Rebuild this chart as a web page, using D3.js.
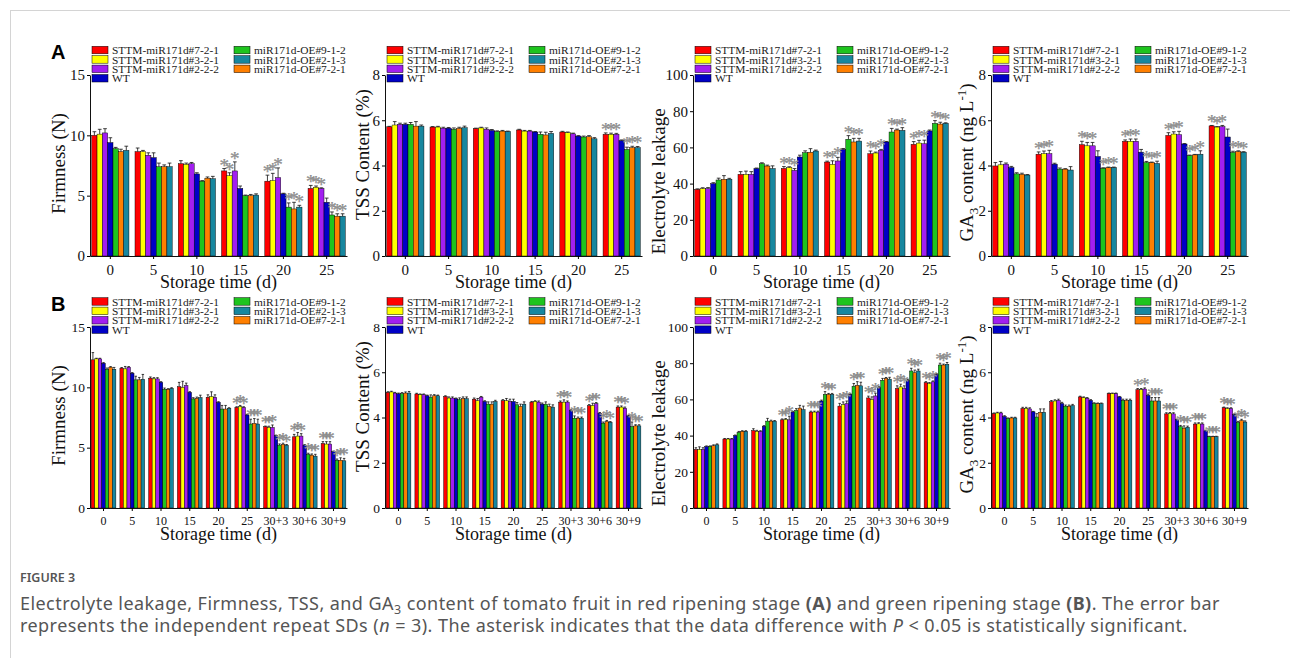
<!DOCTYPE html>
<html>
<head>
<meta charset="utf-8">
<script src="https://cdn.jsdelivr.net/npm/d3@7"></script>
<style>
  body { margin: 0; background: #fff; }
</style>
</head>
<body>
<div id="chartContainer"></div>
<script>

// series, in the order the bars are drawn inside each group
const seriesNames = ["STTM-miR171d#7-2-1", "STTM-miR171d#3-2-1", "STTM-miR171d#2-2-2", "WT",
    "miR171d-OE#9-1-2", "miR171d-OE#7-2-1", "miR171d-OE#2-1-3"];
const seriesColors = ["#ff0000", "#ffff00", "#a21ff0", "#0000c6", "#1ec41e", "#ff7f00", "#17879f"];
// legend: left column 4 entries, right column 3 entries
const legendLeft = [0, 1, 2, 3];
const legendRight = [4, 6, 5];

const daysA = ["0", "5", "10", "15", "20", "25"];
const daysB = ["0", "5", "10", "15", "20", "25", "30+3", "30+6", "30+9"];

const firmTicks = [0, 5, 10, 15];
const tssTicks = [0, 2, 4, 6, 8];
const elTicks = [0, 20, 40, 60, 80, 100];
const gaTicks = [0, 2, 4, 6, 8];

// ---- A: red ripening stage ----
const firmA = [
    [10.0, 10.1, 10.2, 9.4, 8.9, 8.65, 8.75],
    [8.65, 8.65, 8.35, 8.15, 7.4, 7.4, 7.4],
    [7.65, 7.6, 7.65, 6.8, 6.2, 6.45, 6.4],
    [7.05, 6.65, 7.05, 5.6, 5.0, 5.0, 5.05],
    [6.2, 6.25, 6.5, 5.15, 4.05, 3.9, 4.05],
    [5.6, 5.7, 5.6, 4.45, 3.4, 3.3, 3.3]
];
const firmAErr = [
    [0.3, 0.4, 0.35, 0.4, 0.1, 0.2, 0.35],
    [0.3, 0.1, 0.2, 0.4, 0.3, 0.15, 0.3],
    [0.25, 0.1, 0.1, 0.1, 0.05, 0.1, 0.2],
    [0.2, 0.25, 0.75, 0.2, 0.05, 0.1, 0.1],
    [0.5, 0.6, 0.8, 0.05, 0.35, 0.55, 0.15],
    [0.25, 0.1, 0.05, 0.35, 0.25, 0.2, 0.2]
];
const firmASig = ["0000000", "0000000", "0000000", "1110000", "1110111", "1110111"];

const tssA = [
    [5.71, 5.79, 5.82, 5.82, 5.82, 5.74, 5.74],
    [5.70, 5.70, 5.65, 5.65, 5.60, 5.64, 5.67],
    [5.63, 5.66, 5.60, 5.55, 5.50, 5.52, 5.50],
    [5.57, 5.52, 5.52, 5.48, 5.38, 5.35, 5.42],
    [5.48, 5.45, 5.40, 5.30, 5.26, 5.27, 5.18],
    [5.38, 5.38, 5.38, 5.10, 4.71, 4.79, 4.79]
];
const tssAErr = [
    [0.02, 0.15, 0.05, 0.05, 0.08, 0.2, 0.05],
    [0.02, 0.03, 0.04, 0.03, 0.06, 0.05, 0.07],
    [0.02, 0.03, 0.06, 0.04, 0.03, 0.03, 0.02],
    [0.03, 0.03, 0.03, 0.02, 0.1, 0.12, 0.08],
    [0.03, 0.03, 0.03, 0.02, 0.04, 0.05, 0.05],
    [0.06, 0.05, 0.04, 0.03, 0.1, 0.06, 0.05]
];
const tssASig = ["0000000", "0000000", "0000000", "0000000", "0000000", "1110111"];

const elA = [
    [36.8, 37.2, 37.2, 40.0, 42.0, 42.4, 42.4],
    [45.1, 45.1, 45.1, 48.3, 51.0, 49.7, 48.3],
    [48.4, 48.8, 47.3, 54.7, 57.1, 57.3, 58.0],
    [51.9, 50.6, 52.5, 58.9, 64.5, 63.0, 63.5],
    [56.5, 56.9, 58.4, 63.0, 68.5, 69.6, 69.4],
    [61.7, 62.4, 62.0, 69.1, 73.3, 72.9, 73.3]
];
const elAErr = [
    [0.3, 0.5, 0.6, 0.5, 1.0, 2.0, 0.5],
    [1.5, 1.8, 1.5, 0.3, 0.5, 0.5, 1.5],
    [1.0, 0.5, 1.0, 1.0, 1.0, 2.0, 0.5],
    [0.5, 2.0, 2.0, 0.5, 2.0, 2.0, 1.5],
    [1.5, 0.5, 0.5, 0.3, 2.0, 0.5, 1.5],
    [1.5, 1.5, 2.0, 0.5, 1.5, 1.0, 0.3]
];
const elASig = ["0000000", "0000000", "1110000", "1110111", "1110111", "1110111"];

const gaA = [
    [3.98, 4.03, 4.06, 3.91, 3.63, 3.61, 3.58],
    [4.50, 4.52, 4.52, 4.06, 3.84, 3.84, 3.80],
    [4.92, 4.87, 4.87, 4.40, 3.88, 3.91, 3.91],
    [5.07, 5.07, 5.07, 4.59, 4.13, 4.13, 4.09],
    [5.33, 5.39, 5.36, 4.95, 4.44, 4.47, 4.50],
    [5.75, 5.70, 5.72, 5.26, 4.58, 4.62, 4.59]
];
const gaAErr = [
    [0.15, 0.15, 0.05, 0.05, 0.05, 0.05, 0.02],
    [0.1, 0.12, 0.15, 0.04, 0.05, 0.02, 0.15],
    [0.15, 0.15, 0.15, 0.25, 0.02, 0.02, 0.02],
    [0.06, 0.1, 0.1, 0.12, 0.05, 0.02, 0.1],
    [0.12, 0.1, 0.15, 0.02, 0.02, 0.02, 0.15],
    [0.02, 0.02, 0.05, 0.35, 0.05, 0.03, 0.02]
];
const gaASig = ["0000000", "1110000", "1110111", "1110111", "1110111", "1110111"];

// ---- B: green ripening stage ----
const firmB = [
    [12.28, 12.36, 12.36, 12.0, 11.5, 11.67, 11.5],
    [11.59, 11.53, 11.67, 11.17, 10.62, 10.62, 10.67],
    [10.76, 10.7, 10.7, 10.42, 9.84, 9.84, 9.92],
    [10.06, 10.0, 10.15, 9.59, 9.04, 9.09, 9.15],
    [9.18, 9.23, 9.18, 8.76, 8.2, 8.2, 8.26],
    [8.34, 8.4, 8.34, 7.71, 6.96, 7.01, 6.96],
    [6.74, 6.68, 6.68, 5.99, 5.21, 5.27, 5.21],
    [5.9, 5.96, 5.96, 5.21, 4.44, 4.38, 4.3],
    [5.35, 5.3, 5.3, 4.66, 3.96, 3.96, 3.91]
];
const firmBErr = [
    [0.6, 0.05, 0.05, 0.05, 0.1, 0.05, 0.15],
    [0.05, 0.2, 0.05, 0.05, 0.3, 0.2, 0.4],
    [0.1, 0.1, 0.1, 0.05, 0.1, 0.05, 0.05],
    [0.35, 0.5, 0.2, 0.05, 0.1, 0.1, 0.2],
    [0.2, 0.4, 0.2, 0.05, 0.3, 0.3, 0.05],
    [0.05, 0.1, 0.05, 0.05, 0.4, 0.4, 0.4],
    [0.05, 0.1, 0.2, 0.05, 0.1, 0.1, 0.05],
    [0.2, 0.3, 0.2, 0.05, 0.1, 0.1, 0.15],
    [0.15, 0.2, 0.2, 0.05, 0.1, 0.2, 0.2]
];
const firmBSig = ["0000000", "0000000", "0000000", "0000000", "0000000", "1110111", "1110111", "1110111", "1110111"];

const tssB = [
    [5.11, 5.13, 5.08, 5.05, 5.05, 5.08, 5.08],
    [5.04, 5.01, 5.01, 4.96, 4.90, 4.96, 4.96],
    [4.93, 4.86, 4.86, 4.83, 4.79, 4.83, 4.83],
    [4.81, 4.74, 4.90, 4.71, 4.59, 4.59, 4.71],
    [4.74, 4.74, 4.71, 4.71, 4.56, 4.49, 4.59],
    [4.68, 4.71, 4.68, 4.59, 4.59, 4.49, 4.46],
    [4.68, 4.68, 4.68, 4.31, 3.97, 3.97, 3.97],
    [4.52, 4.53, 4.61, 4.19, 3.75, 3.82, 3.79],
    [4.46, 4.46, 4.41, 4.07, 3.60, 3.63, 3.63]
];
const tssBErr = [
    [0.03, 0.03, 0.03, 0.03, 0.05, 0.05, 0.07],
    [0.03, 0.03, 0.03, 0.03, 0.1, 0.05, 0.03],
    [0.03, 0.05, 0.05, 0.03, 0.08, 0.08, 0.08],
    [0.05, 0.1, 0.03, 0.03, 0.1, 0.1, 0.05],
    [0.05, 0.1, 0.1, 0.1, 0.1, 0.1, 0.1],
    [0.03, 0.03, 0.05, 0.05, 0.1, 0.1, 0.1],
    [0.05, 0.1, 0.05, 0.03, 0.1, 0.05, 0.05],
    [0.05, 0.1, 0.05, 0.03, 0.05, 0.05, 0.03],
    [0.05, 0.05, 0.05, 0.03, 0.2, 0.05, 0.05]
];
const tssBSig = ["0000000", "0000000", "0000000", "0000000", "0000000", "0000000", "1110111", "1110111", "1110111"];

const elB = [
    [32.3, 32.3, 32.3, 34.0, 34.0, 34.4, 34.9],
    [38.1, 38.1, 38.1, 40.0, 41.8, 42.4, 42.4],
    [42.8, 42.4, 42.4, 45.2, 48.0, 48.0, 48.0],
    [48.7, 48.9, 48.7, 53.0, 53.9, 55.2, 54.3],
    [53.0, 53.0, 53.0, 59.1, 62.8, 62.8, 62.8],
    [56.3, 57.1, 57.6, 62.8, 67.3, 67.8, 67.5],
    [60.8, 59.9, 61.9, 66.5, 70.6, 71.6, 71.2],
    [66.0, 66.9, 66.0, 70.6, 75.7, 74.7, 75.7],
    [69.3, 68.8, 69.7, 73.8, 79.0, 79.0, 79.4]
];
const elBErr = [
    [1.0, 1.5, 1.0, 0.3, 0.3, 0.5, 0.5],
    [0.3, 0.3, 0.3, 0.3, 0.5, 0.3, 0.3],
    [1.0, 0.5, 0.3, 0.3, 1.5, 0.5, 0.3],
    [0.5, 0.5, 2.0, 0.3, 1.0, 1.5, 2.0],
    [0.5, 0.5, 0.5, 0.5, 1.5, 0.5, 0.5],
    [1.5, 1.5, 1.5, 0.3, 1.5, 2.0, 2.0],
    [1.0, 1.5, 1.5, 0.5, 1.0, 0.5, 1.0],
    [1.5, 1.5, 1.5, 0.5, 1.5, 1.5, 1.0],
    [0.5, 0.5, 0.5, 0.5, 1.0, 0.5, 1.0]
];
const elBSig = ["0000000", "0000000", "0000000", "1110000", "1110111", "1110111", "1110111", "1110111", "1110111"];

const gaB = [
    [4.17, 4.20, 4.20, 4.05, 3.95, 3.98, 3.98],
    [4.40, 4.40, 4.38, 4.25, 4.02, 4.23, 4.23],
    [4.70, 4.73, 4.76, 4.62, 4.50, 4.50, 4.53],
    [4.91, 4.88, 4.85, 4.76, 4.62, 4.61, 4.61],
    [5.06, 5.06, 5.06, 4.91, 4.76, 4.76, 4.76],
    [5.23, 5.23, 5.26, 4.98, 4.73, 4.73, 4.73],
    [4.16, 4.17, 4.16, 3.90, 3.60, 3.53, 3.57],
    [3.71, 3.72, 3.71, 3.41, 3.15, 3.15, 3.15],
    [4.43, 4.40, 4.40, 4.13, 3.78, 3.87, 3.80]
];
const gaBErr = [
    [0.03, 0.03, 0.03, 0.03, 0.03, 0.03, 0.03],
    [0.05, 0.05, 0.05, 0.02, 0.15, 0.15, 0.15],
    [0.05, 0.05, 0.05, 0.05, 0.05, 0.05, 0.05],
    [0.03, 0.03, 0.03, 0.03, 0.03, 0.03, 0.03],
    [0.02, 0.02, 0.02, 0.02, 0.05, 0.05, 0.05],
    [0.05, 0.05, 0.05, 0.05, 0.15, 0.15, 0.15],
    [0.05, 0.05, 0.05, 0.03, 0.05, 0.1, 0.05],
    [0.05, 0.05, 0.05, 0.03, 0.02, 0.02, 0.02],
    [0.03, 0.03, 0.03, 0.03, 0.05, 0.05, 0.05]
];
const gaBSig = ["0000000", "0000000", "0000000", "0000000", "0000000", "1010111", "1110111", "1110111", "1110111"];

// ---- layout ----
const width = 1290;
const height = 658;
const serif = "'Liberation Serif', 'Times New Roman', serif";
const plotW = 257;
const colX = [90, 385, 693, 991];
const rows = [
    { top: 75, bottom: 256, legendTop: 46.3, letter: "A", xTickFont: 15, yTickFont: 15 },
    { top: 327, bottom: 508, legendTop: 297.7, letter: "B", xTickFont: 12, yTickFont: 13.5 }
];

const metrics = [
    { title: "Firmness (N)", ticks: firmTicks, titleDx: -32, titleDy: -2 },
    { title: "TSS Content (%)", ticks: tssTicks, titleDx: -23, titleDy: -11 },
    { title: "Electrolyte leakage", ticks: elTicks, titleDx: -35, titleDy: 16 },
    { title: "GA3", ticks: gaTicks, titleDx: -25, titleDy: -3 }
];

const panels = [
    { row: 0, col: 0, cats: daysA, vals: firmA, errs: firmAErr, sig: firmASig },
    { row: 0, col: 1, cats: daysA, vals: tssA, errs: tssAErr, sig: tssASig },
    { row: 0, col: 2, cats: daysA, vals: elA, errs: elAErr, sig: elASig },
    { row: 0, col: 3, cats: daysA, vals: gaA, errs: gaAErr, sig: gaASig },
    { row: 1, col: 0, cats: daysB, vals: firmB, errs: firmBErr, sig: firmBSig },
    { row: 1, col: 1, cats: daysB, vals: tssB, errs: tssBErr, sig: tssBSig },
    { row: 1, col: 2, cats: daysB, vals: elB, errs: elBErr, sig: elBSig },
    { row: 1, col: 3, cats: daysB, vals: gaB, errs: gaBErr, sig: gaBSig }
];

const svg = d3.select('#chartContainer')
    .append('svg')
    .attr('width', width)
    .attr('height', height)
    .style('display', 'block')
    .style('background', '#fff');

// page frame lines
svg.append('line').attr('x1', 10).attr('x2', width).attr('y1', 10.5).attr('y2', 10.5)
    .attr('stroke', '#d4d4d4');
svg.append('line').attr('x1', 10.5).attr('x2', 10.5).attr('y1', 10).attr('y2', height)
    .attr('stroke', '#d4d4d4');

function drawPanel(p) {
    const row = rows[p.row];
    const m = metrics[p.col];
    const x0 = colX[p.col];
    const g = svg.append('g').attr('class', 'panel');

    const scaleX = d3.scaleBand()
        .domain(p.cats)
        .range([x0, x0 + plotW])
        .paddingInner(0.14)
        .paddingOuter(0.04);

    const scaleS = d3.scaleBand()
        .domain(d3.range(seriesNames.length))
        .range([0, scaleX.bandwidth()]);

    const yMax = m.ticks[m.ticks.length - 1];
    const scaleY = d3.scaleLinear()
        .domain([0, yMax])
        .range([row.bottom, row.top]);

    // flatten groups
    const cells = [];
    p.cats.forEach((c, gi) => {
        p.vals[gi].forEach((v, si) => {
            cells.push({ cat: c, s: si, v: v, e: p.errs[gi][si], sig: p.sig[gi][si] === '1' });
        });
    });

    const bw = scaleS.bandwidth();
    const cx = d => scaleX(d.cat) + scaleS(d.s) + bw / 2;

    g.append('g')
        .selectAll('rect')
        .data(cells)
        .enter()
        .append('rect')
        .attr('x', d => scaleX(d.cat) + scaleS(d.s))
        .attr('y', d => scaleY(d.v))
        .attr('width', bw)
        .attr('height', d => scaleY(0) - scaleY(d.v))
        .attr('fill', d => seriesColors[d.s])
        .attr('stroke', '#000')
        .attr('stroke-width', 0.45);

    // error bars (upper half only)
    const eb = g.append('g')
        .attr('stroke', '#111')
        .attr('stroke-width', 0.8);
    eb.selectAll('line.stem')
        .data(cells)
        .enter()
        .append('line')
        .attr('class', 'stem')
        .attr('x1', cx).attr('x2', cx)
        .attr('y1', d => scaleY(d.v))
        .attr('y2', d => scaleY(d.v + d.e));
    eb.selectAll('line.cap')
        .data(cells)
        .enter()
        .append('line')
        .attr('class', 'cap')
        .attr('x1', d => cx(d) - bw * 0.35).attr('x2', d => cx(d) + bw * 0.35)
        .attr('y1', d => scaleY(d.v + d.e))
        .attr('y2', d => scaleY(d.v + d.e));

    // significance stars
    g.append('g')
        .selectAll('text')
        .data(cells.filter(d => d.sig))
        .enter()
        .append('text')
        .attr('x', cx)
        .attr('y', d => scaleY(d.v + d.e) + 3)
        .attr('text-anchor', 'middle')
        .style('font', `19px ${serif}`)
        .style('fill', '#9a9a9a')
        .style('stroke', '#777')
        .style('stroke-width', 0.25)
        .text('*');

    // axes
    const xAxis = g.append('g')
        .attr('transform', `translate(0, ${row.bottom})`)
        .call(d3.axisBottom(scaleX).tickSize(3).tickSizeOuter(0).tickPadding(5));
    xAxis.selectAll('text').style('font', `${row.xTickFont}px ${serif}`).style('fill', '#111');
    xAxis.select('.domain').attr('stroke', '#111');

    const yAxis = g.append('g')
        .attr('transform', `translate(${x0}, 0)`)
        .call(d3.axisLeft(scaleY).tickValues(m.ticks).tickSize(3).tickSizeOuter(0).tickPadding(2));
    yAxis.selectAll('text').style('font', `${row.yTickFont}px ${serif}`).style('fill', '#111');
    yAxis.select('.domain').attr('stroke', '#111');

    // axis titles
    g.append('text')
        .attr('x', x0 + plotW / 2)
        .attr('y', row.bottom + 32)
        .attr('text-anchor', 'middle')
        .style('font', `18px ${serif}`)
        .style('fill', '#111')
        .text('Storage time (d)');

    const ty = (row.top + row.bottom) / 2 + m.titleDy;
    const yTitle = g.append('text')
        .attr('transform', `translate(${x0 + m.titleDx}, ${ty}) rotate(-90)`)
        .attr('text-anchor', 'middle')
        .attr('dy', '0.35em')
        .style('font', `19px ${serif}`)
        .style('fill', '#111');
    if (m.title === 'GA3') {
        yTitle.append('tspan').text('GA');
        yTitle.append('tspan').attr('dy', 5).style('font-size', '13px').text('3');
        yTitle.append('tspan').attr('dy', -5).text(' content (ng L');
        yTitle.append('tspan').attr('dy', -7).style('font-size', '13px').text('-1');
        yTitle.append('tspan').attr('dy', 7).text(')');
    } else {
        yTitle.text(m.title);
    }

    // legend
    const leg = g.append('g');
    const addEntry = (si, i, lx) => {
        const ly = row.legendTop + i * 9.4;
        leg.append('rect')
            .attr('x', lx).attr('y', ly)
            .attr('width', 16).attr('height', 7.5)
            .attr('fill', seriesColors[si])
            .attr('stroke', '#000').attr('stroke-width', 0.5);
        leg.append('text')
            .attr('x', lx + 20).attr('y', ly + 3.9)
            .attr('dy', '0.35em')
            .style('font', `11.4px ${serif}`)
            .style('fill', '#1a1a1a')
            .text(seriesNames[si]);
    };
    legendLeft.forEach((si, i) => addEntry(si, i, x0 + 2));
    legendRight.forEach((si, i) => addEntry(si, i, x0 + 144));
}

panels.forEach(drawPanel);

// panel letters
rows.forEach(r => {
    svg.append('text')
        .attr('x', 51)
        .attr('y', r.legendTop + 13)
        .style('font', "bold 20px 'Liberation Sans', Arial, sans-serif")
        .style('fill', '#000')
        .text(r.letter);
});

// caption
const capFont = "'Noto Sans', 'Open Sans', sans-serif";
const capX = 20;
svg.append('text')
    .attr('x', capX).attr('y', 582)
    .style('font', `600 12.5px ${capFont}`)
    .style('fill', '#555')
    .text('FIGURE 3');

const cap1 = svg.append('text')
    .attr('x', capX).attr('y', 610)
    .style('font', `18px ${capFont}`)
    .style('fill', '#555');
cap1.append('tspan').text('Electrolyte leakage, Firmness, TSS, and GA');
cap1.append('tspan').attr('dy', 4).style('font-size', '12.5px').text('3');
cap1.append('tspan').attr('dy', -4).text(' content of tomato fruit in red ripening stage ');
cap1.append('tspan').style('font-weight', 'bold').text('(A)');
cap1.append('tspan').text(' and green ripening stage ');
cap1.append('tspan').style('font-weight', 'bold').text('(B)');
cap1.append('tspan').text('. The error bar');

const cap2 = svg.append('text')
    .attr('x', capX).attr('y', 632)
    .style('font', `18px ${capFont}`)
    .style('fill', '#555');
cap2.append('tspan').text('represents the independent repeat SDs (');
cap2.append('tspan').style('font-style', 'italic').text('n');
cap2.append('tspan').text(' = 3). The asterisk indicates that the data difference with ');
cap2.append('tspan').style('font-style', 'italic').text('P');
cap2.append('tspan').text(' < 0.05 is statistically significant.');

// nudge the caption's letter spacing so the first line ends where the reference's does
const capTarget = 1200;
const cap1Len = cap1.node().getComputedTextLength();
const cap1Chars = cap1.text().length;
const capSpacing = Math.max(0, (capTarget - cap1Len) / cap1Chars);
cap1.style('letter-spacing', `${capSpacing}px`);
cap2.style('letter-spacing', `${capSpacing}px`);

</script>
</body>
</html>
